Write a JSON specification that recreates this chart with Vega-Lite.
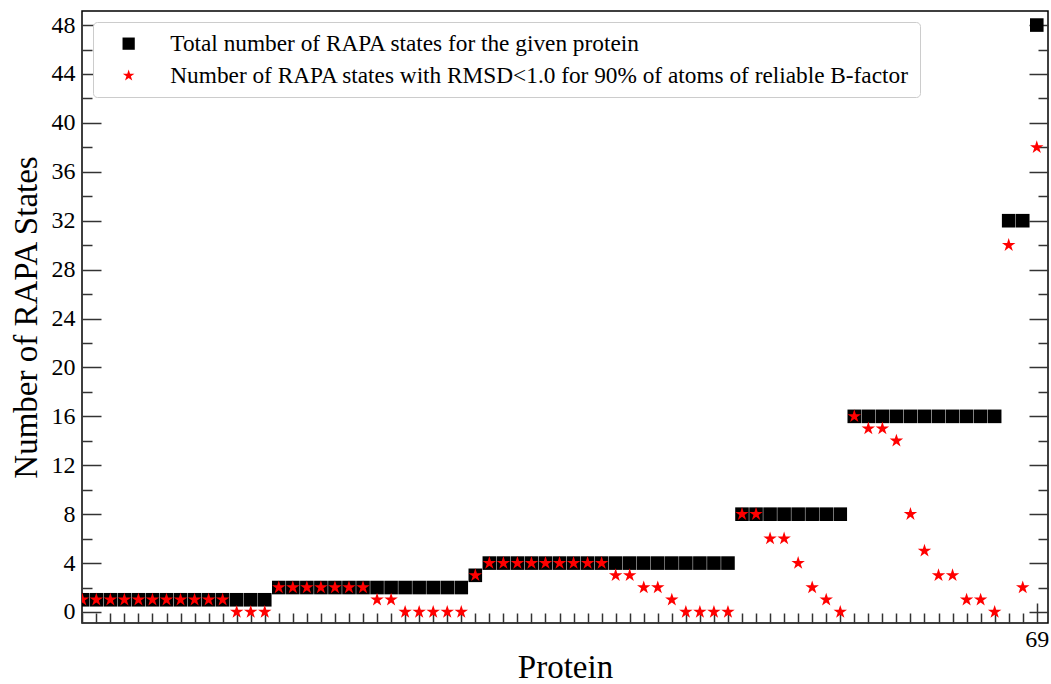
{
  "$schema": "https://vega.github.io/schema/vega-lite/v6.json",
  "width": 966,
  "height": 612,
  "autosize": "none",
  "padding": {"left": 82, "top": 11, "right": 3, "bottom": 61},
  "background": "white",
  "config": {
    "font": "Liberation Serif",
    "view": {"stroke": "black", "strokeWidth": 1.5},
    "axis": {"grid": false, "domain": false, "tickColor": "#333333", "tickWidth": 1.5, "labelColor": "black", "titleColor": "black", "labelFont": "Liberation Serif", "titleFont": "Liberation Serif", "titleFontWeight": "normal", "labelOverlap": false, "labelFlush": false}
  },
  "data": {
    "values": [
      {"protein": 1, "total": 1, "reliable": 1},
      {"protein": 2, "total": 1, "reliable": 1},
      {"protein": 3, "total": 1, "reliable": 1},
      {"protein": 4, "total": 1, "reliable": 1},
      {"protein": 5, "total": 1, "reliable": 1},
      {"protein": 6, "total": 1, "reliable": 1},
      {"protein": 7, "total": 1, "reliable": 1},
      {"protein": 8, "total": 1, "reliable": 1},
      {"protein": 9, "total": 1, "reliable": 1},
      {"protein": 10, "total": 1, "reliable": 1},
      {"protein": 11, "total": 1, "reliable": 1},
      {"protein": 12, "total": 1, "reliable": 0},
      {"protein": 13, "total": 1, "reliable": 0},
      {"protein": 14, "total": 1, "reliable": 0},
      {"protein": 15, "total": 2, "reliable": 2},
      {"protein": 16, "total": 2, "reliable": 2},
      {"protein": 17, "total": 2, "reliable": 2},
      {"protein": 18, "total": 2, "reliable": 2},
      {"protein": 19, "total": 2, "reliable": 2},
      {"protein": 20, "total": 2, "reliable": 2},
      {"protein": 21, "total": 2, "reliable": 2},
      {"protein": 22, "total": 2, "reliable": 1},
      {"protein": 23, "total": 2, "reliable": 1},
      {"protein": 24, "total": 2, "reliable": 0},
      {"protein": 25, "total": 2, "reliable": 0},
      {"protein": 26, "total": 2, "reliable": 0},
      {"protein": 27, "total": 2, "reliable": 0},
      {"protein": 28, "total": 2, "reliable": 0},
      {"protein": 29, "total": 3, "reliable": 3},
      {"protein": 30, "total": 4, "reliable": 4},
      {"protein": 31, "total": 4, "reliable": 4},
      {"protein": 32, "total": 4, "reliable": 4},
      {"protein": 33, "total": 4, "reliable": 4},
      {"protein": 34, "total": 4, "reliable": 4},
      {"protein": 35, "total": 4, "reliable": 4},
      {"protein": 36, "total": 4, "reliable": 4},
      {"protein": 37, "total": 4, "reliable": 4},
      {"protein": 38, "total": 4, "reliable": 4},
      {"protein": 39, "total": 4, "reliable": 3},
      {"protein": 40, "total": 4, "reliable": 3},
      {"protein": 41, "total": 4, "reliable": 2},
      {"protein": 42, "total": 4, "reliable": 2},
      {"protein": 43, "total": 4, "reliable": 1},
      {"protein": 44, "total": 4, "reliable": 0},
      {"protein": 45, "total": 4, "reliable": 0},
      {"protein": 46, "total": 4, "reliable": 0},
      {"protein": 47, "total": 4, "reliable": 0},
      {"protein": 48, "total": 8, "reliable": 8},
      {"protein": 49, "total": 8, "reliable": 8},
      {"protein": 50, "total": 8, "reliable": 6},
      {"protein": 51, "total": 8, "reliable": 6},
      {"protein": 52, "total": 8, "reliable": 4},
      {"protein": 53, "total": 8, "reliable": 2},
      {"protein": 54, "total": 8, "reliable": 1},
      {"protein": 55, "total": 8, "reliable": 0},
      {"protein": 56, "total": 16, "reliable": 16},
      {"protein": 57, "total": 16, "reliable": 15},
      {"protein": 58, "total": 16, "reliable": 15},
      {"protein": 59, "total": 16, "reliable": 14},
      {"protein": 60, "total": 16, "reliable": 8},
      {"protein": 61, "total": 16, "reliable": 5},
      {"protein": 62, "total": 16, "reliable": 3},
      {"protein": 63, "total": 16, "reliable": 3},
      {"protein": 64, "total": 16, "reliable": 1},
      {"protein": 65, "total": 16, "reliable": 1},
      {"protein": 66, "total": 16, "reliable": 0},
      {"protein": 67, "total": 32, "reliable": 30},
      {"protein": 68, "total": 32, "reliable": 2},
      {"protein": 69, "total": 48, "reliable": 38}
    ]
  },
  "layer": [
    {
      "mark": {"type": "point", "shape": "square", "filled": true, "size": 185, "opacity": 1, "strokeWidth": 0, "clip": true},
      "encoding": {
        "x": {
          "field": "protein", "type": "quantitative",
          "scale": {"domain": [0.98, 69.8], "nice": false, "zero": false},
          "axis": {
            "orient": "bottom", "title": "Protein", "titleFontSize": 33, "titlePadding": -10,
            "values": [1,2,3,4,5,6,7,8,9,10,11,12,13,14,15,16,17,18,19,20,21,22,23,24,25,26,27,28,29,30,31,32,33,34,35,36,37,38,39,40,41,42,43,44,45,46,47,48,49,50,51,52,53,54,55,56,57,58,59,60,61,62,63,64,65,66,67,68,69],
            "labelExpr": "datum.value === 69 ? '69' : ''",
            "labelFontSize": 24, "labelPadding": 24,
            "tickSize": {"condition": {"test": "datum.value === 69", "value": -20}, "value": -10}
          }
        },
        "y": {
          "field": "total", "type": "quantitative",
          "scale": {"domain": [-0.9, 49.15], "nice": false, "zero": false},
          "axis": {
            "orient": "left", "title": "Number of RAPA States", "titleFontSize": 33, "titlePadding": 8,
            "values": [0,2,4,6,8,10,12,14,16,18,20,22,24,26,28,30,32,34,36,38,40,42,44,46,48],
            "labelExpr": "datum.value % 4 === 0 ? datum.label : ''",
            "labelFontSize": 24, "labelPadding": 26,
            "tickSize": {"condition": {"test": "datum.value % 4 === 0", "value": -19}, "value": -10}
          }
        },
        "color": {
          "datum": "Total number of RAPA states for the given protein",
          "scale": {"domain": ["Total number of RAPA states for the given protein", "Number of RAPA states with RMSD<1.0 for 90% of atoms of reliable B-factor"], "range": ["black", "red"]},
          "legend": {
            "title": null, "orient": "none", "legendX": 11, "legendY": 11,
            "padding": 10, "symbolOffset": 14, "labelOffset": 30, "rowPadding": 8,
            "labelFontSize": 23.3, "labelFont": "Liberation Serif", "labelColor": "black", "labelLimit": 2000,
            "symbolSize": 150, "strokeColor": "#cccccc", "fillColor": "white", "cornerRadius": 4
          }
        },
        "shape": {
          "datum": "Total number of RAPA states for the given protein",
          "scale": {"domain": ["Total number of RAPA states for the given protein", "Number of RAPA states with RMSD<1.0 for 90% of atoms of reliable B-factor"], "range": ["square", "M0,-1L0.2245,-0.309L0.951,-0.309L0.363,0.118L0.588,0.809L0,0.382L-0.588,0.809L-0.363,0.118L-0.951,-0.309L-0.2245,-0.309Z"]},
          "legend": {
            "title": null, "orient": "none", "legendX": 11, "legendY": 11,
            "padding": 10, "symbolOffset": 14, "labelOffset": 30, "rowPadding": 8,
            "labelFontSize": 23.3, "labelFont": "Liberation Serif", "labelColor": "black", "labelLimit": 2000,
            "symbolSize": 150, "strokeColor": "#cccccc", "fillColor": "white", "cornerRadius": 4
          }
        }
      }
    },
    {
      "mark": {"type": "point", "filled": true, "size": 200, "opacity": 1, "strokeWidth": 0, "clip": true},
      "encoding": {
        "x": {
          "field": "protein", "type": "quantitative",
          "axis": {
            "orient": "bottom", "title": "Protein", "titleFontSize": 33, "titlePadding": -10,
            "values": [1,2,3,4,5,6,7,8,9,10,11,12,13,14,15,16,17,18,19,20,21,22,23,24,25,26,27,28,29,30,31,32,33,34,35,36,37,38,39,40,41,42,43,44,45,46,47,48,49,50,51,52,53,54,55,56,57,58,59,60,61,62,63,64,65,66,67,68,69],
            "labelExpr": "datum.value === 69 ? '69' : ''",
            "labelFontSize": 24, "labelPadding": 24,
            "tickSize": {"condition": {"test": "datum.value === 69", "value": -20}, "value": -10}
          }
        },
        "y": {
          "field": "reliable", "type": "quantitative",
          "axis": {
            "orient": "right", "title": null, "labels": false,
            "values": [0,2,4,6,8,10,12,14,16,18,20,22,24,26,28,30,32,34,36,38,40,42,44,46,48],
            "tickSize": {"condition": {"test": "datum.value % 4 === 0", "value": -19}, "value": -10}
          }
        },
        "color": {"datum": "Number of RAPA states with RMSD<1.0 for 90% of atoms of reliable B-factor"},
        "shape": {"datum": "Number of RAPA states with RMSD<1.0 for 90% of atoms of reliable B-factor"}
      }
    }
  ]
}
